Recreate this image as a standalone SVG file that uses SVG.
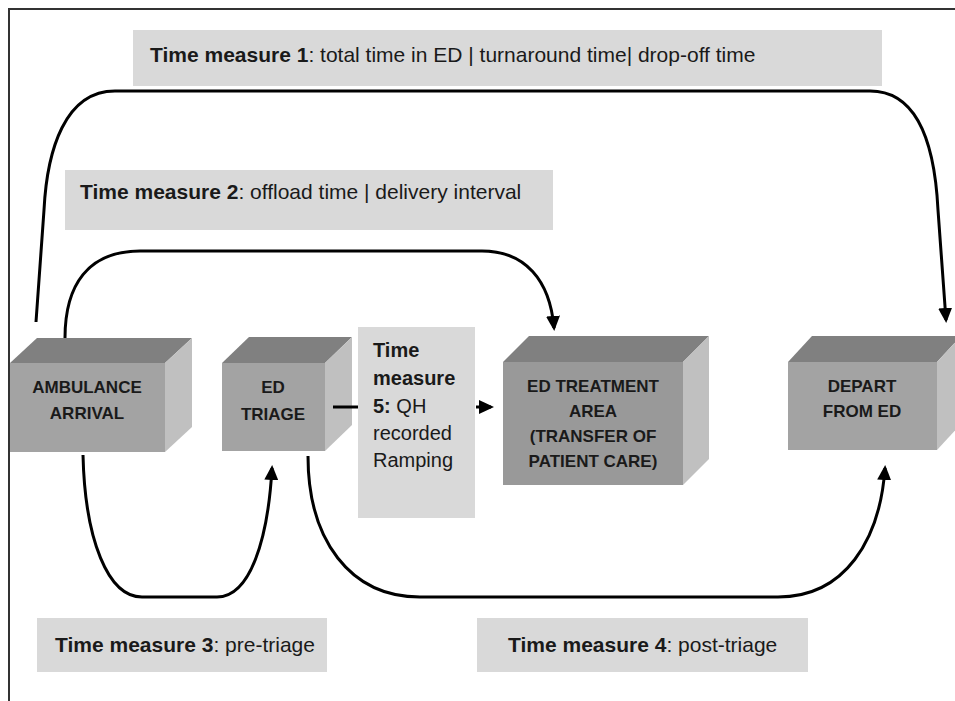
<svg xmlns="http://www.w3.org/2000/svg" width="955" height="701" viewBox="0 0 955 701">
<style>
.lbl{fill:#d9d9d9}
.front{fill:#a3a3a3}
.front2{fill:#999999}
.top{fill:#808080}
.side{fill:#c0c0c0}
text{font-family:"Liberation Sans",Arial,sans-serif;fill:#1a1a1a}
.t21{font-size:21px}
.t20{font-size:20px}
.cube{font-size:17px;font-weight:bold;text-anchor:middle}
.b{font-weight:bold}
.conn{fill:none;stroke:#000;stroke-width:3}
</style>
<defs>
<marker id="ah" markerUnits="userSpaceOnUse" markerWidth="16" markerHeight="14" refX="12" refY="7" orient="auto">
<path d="M0,0 L15,7 L0,14 z" fill="#000"/>
</marker>
</defs>
<rect width="955" height="701" fill="#fff"/>
<polyline points="9,701 9,9 955,9" fill="none" stroke="#333" stroke-width="2"/>
<g id="tm1">
<rect class="lbl" x="133" y="30" width="749" height="56"/>
<text class="t21" x="150" y="62"><tspan class="b">Time measure 1</tspan>: total time in ED | turnaround time| drop-off time</text>
</g>
<g id="tm2">
<rect class="lbl" x="65" y="170" width="488" height="60"/>
<text class="t21" x="80" y="199"><tspan class="b">Time measure 2</tspan>: offload time | delivery interval</text>
</g>
<g id="tm3">
<rect class="lbl" x="37" y="618" width="290" height="54"/>
<text class="t21" x="55" y="652"><tspan class="b">Time measure 3</tspan>: pre-triage</text>
</g>
<g id="tm4">
<rect class="lbl" x="477" y="618" width="331" height="54"/>
<text class="t21" x="508" y="652"><tspan class="b">Time measure 4</tspan>: post-triage</text>
</g>
<g id="tm5">
<rect class="lbl" x="358" y="327" width="117" height="191"/>
<text class="t20" x="373" y="357" font-weight="bold">Time</text>
<text class="t20" x="373" y="385" font-weight="bold">measure</text>
<text class="t20" x="373" y="413"><tspan class="b">5:</tspan> QH</text>
<text class="t20" x="373" y="440">recorded</text>
<text class="t20" x="373" y="467">Ramping</text>
</g>
<g id="ambulance">
<polygon class="top" points="10,363 37,338 192,338 165,363"/>
<polygon class="side" points="165,363 192,338 192,427 165,452"/>
<rect class="front" x="10" y="363" width="155" height="89"/>
<text class="cube" x="87" y="393">AMBULANCE</text>
<text class="cube" x="87" y="419">ARRIVAL</text>
</g>
<g id="triage">
<polygon class="top" points="222,363 249,337 352,337 325,363"/>
<polygon class="side" points="325,363 352,337 352,425 325,451"/>
<rect class="front" x="222" y="363" width="103" height="88"/>
<text class="cube" x="273" y="393">ED</text>
<text class="cube" x="273" y="420">TRIAGE</text>
</g>
<g id="treatment">
<polygon class="top" points="503,362 529,336 709,336 683,362"/>
<polygon class="side" points="683,362 709,336 709,459 683,485"/>
<rect class="front2" x="503" y="362" width="180" height="123"/>
<text class="cube" x="593" y="392">ED TREATMENT</text>
<text class="cube" x="593" y="417">AREA</text>
<text class="cube" x="593" y="442">(TRANSFER OF</text>
<text class="cube" x="593" y="467">PATIENT CARE)</text>
</g>
<g id="depart">
<polygon class="top" points="788,362 812,336 961,336 937,362"/>
<polygon class="side" points="937,362 961,336 961,424 937,450"/>
<rect class="front" x="788" y="362" width="149" height="88"/>
<text class="cube" x="862" y="392">DEPART</text>
<text class="cube" x="862" y="417">FROM ED</text>
</g>
<g id="connectors">
<path class="conn" d="M36,322 L44,210 C47,150 65,91 115,91 L870,91 C920,91 935,150 938,210 L946,320" marker-end="url(#ah)"/>
<path class="conn" d="M65,338 C65,285 88,251 140,251 L482,251 C525,251 550,280 554,328" marker-end="url(#ah)"/>
<path class="conn" d="M83,455 C85,540 108,597 142,597 L217,597 C250,597 268,540 272,468" marker-end="url(#ah)"/>
<path class="conn" d="M308,456 C308,540 350,597 420,597 L778,597 C845,597 880,540 885,468" marker-end="url(#ah)"/>
<path class="conn" d="M333,407 L358,407"/>
<path class="conn" d="M476,407 L491,407" marker-end="url(#ah)"/>
</g>
</svg>
